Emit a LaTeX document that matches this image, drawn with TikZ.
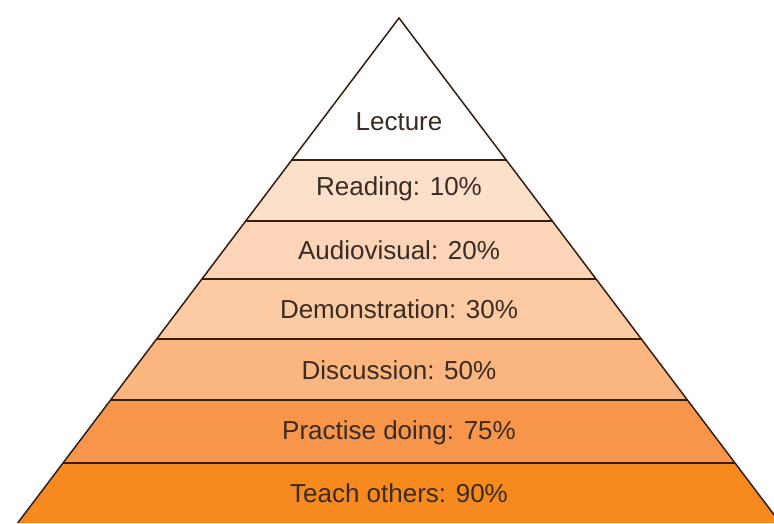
\documentclass[tikz,border=0pt]{standalone}
\usepackage{fontspec}
\setmainfont{Liberation Sans}
\usepackage{tikz}

\definecolor{readcol}{HTML}{FDE0CA}
\definecolor{avcol}{HTML}{FCD5B8}
\definecolor{democol}{HTML}{FDCBA3}
\definecolor{disccol}{HTML}{FBB57F}
\definecolor{praccol}{HTML}{F7964A}
\definecolor{teachcol}{HTML}{F68A1E}
\definecolor{edgecol}{HTML}{3A1C0C}
\definecolor{txtcol}{HTML}{3A2C24}

\begin{document}
\begin{tikzpicture}[x=1pt, y=-1pt,
    lbl/.style={font=\fontsize{26}{30}\selectfont, text=txtcol, inner sep=0pt},
    edge/.style={draw=edgecol, line width=1.5pt, line join=miter}]
    \useasboundingbox (0,0) rectangle (774,523);
    \clip (0,0) rectangle (774,523);

    % bands, top to bottom
    \foreach \ya/\yb/\col in {18/160/white, 160/221/readcol, 221/279/avcol,
        279/339/democol, 339/400/disccol, 400/463/praccol, 463/523/teachcol}
    {
        \pgfmathsetmacro\la{399-0.755*(\ya-18)}
        \pgfmathsetmacro\ra{399+0.755*(\ya-18)}
        \pgfmathsetmacro\lb{399-0.755*(\yb-18)}
        \pgfmathsetmacro\rb{399+0.755*(\yb-18)}
        \fill[\col] (\la,\ya) -- (\ra,\ya) -- (\rb,\yb) -- (\lb,\yb) -- cycle;
    }

    % dividing lines
    \foreach \y in {160, 221, 279, 339, 400, 463}
    {
        \pgfmathsetmacro\la{399-0.755*(\y-18)}
        \pgfmathsetmacro\ra{399+0.755*(\y-18)}
        \draw[edge] (\la,\y) -- (\ra,\y);
    }

    % outline
    \coordinate (apex) at (399,18);
    \coordinate (baseL) at (17.7,523);
    \coordinate (baseR) at (780.3,523);
    \draw[edge] (baseL) -- (apex) -- (baseR);

    \node[lbl] (lecture) at (399,122) {Lecture};
    \node[lbl] (reading) at (399,189) {Reading: 10\%};
    \node[lbl] (audio) at (399,250) {Audiovisual: 20\%};
    \node[lbl] (demo) at (399,309) {Demonstration: 30\%};
    \node[lbl] (discuss) at (399,370) {Discussion: 50\%};
    \node[lbl] (practise) at (399,433) {Practise doing: 75\%};
    \node[lbl] (teach) at (399,493) {Teach others: 90\%};
\end{tikzpicture}
\end{document}
